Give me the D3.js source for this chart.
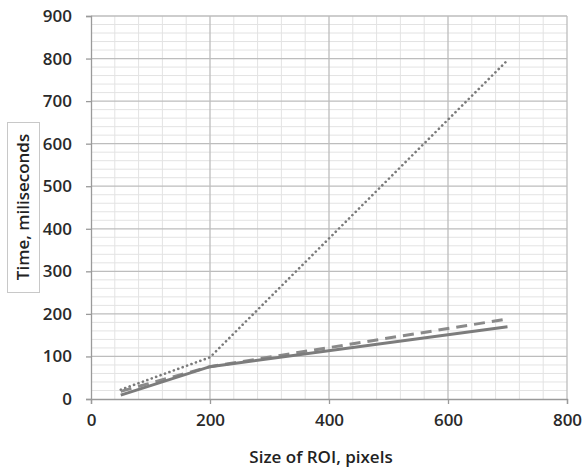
<!DOCTYPE html>
<html>
<head>
<meta charset="utf-8">
<script src="https://cdn.jsdelivr.net/npm/d3@7"></script>
<style>
  html, body { margin: 0; padding: 0; background: #fff; }
  svg text { font-family: "Open Sans", "Noto Sans", sans-serif; }
</style>
</head>
<body>
<svg id="chart" width="584" height="471"></svg>
<script>
// ---- data ----
const sizes = [50, 200, 700];
const seriesDotted = [22, 98, 796];
const seriesDashed = [18, 76, 188];
const seriesSolid = [9, 76, 170];
const xTicks = [0, 200, 400, 600, 800];
const yTicks = [0, 100, 200, 300, 400, 500, 600, 700, 800, 900];
const xTitle = "Size of ROI, pixels";
const yTitle = "Time, miliseconds";

// ---- layout ----
const W = 584, H = 471;
const m = { left: 91, right: 17, top: 16, bottom: 72 };
const svg = d3.select("#chart");
const x = d3.scaleLinear().domain([0, 800]).range([m.left, W - m.right]);
const y = d3.scaleLinear().domain([0, 900]).range([H - m.bottom, m.top]);

// minor grid
const g = svg.append("g");
g.selectAll(".mx").data(d3.range(0, 801, 40).filter(v => v % 200 !== 0)).join("line")
  .attr("x1", d => x(d)).attr("x2", d => x(d)).attr("y1", y(0)).attr("y2", y(900))
  .attr("stroke", "#e3e3e3").attr("stroke-width", 1);
g.selectAll(".my").data(d3.range(0, 901, 20).filter(v => v % 100 !== 0)).join("line")
  .attr("x1", x(0)).attr("x2", x(800)).attr("y1", d => y(d)).attr("y2", d => y(d))
  .attr("stroke", "#e3e3e3").attr("stroke-width", 1);
// major grid
g.selectAll(".Mx").data(xTicks.filter(v => v > 0)).join("line")
  .attr("x1", d => x(d)).attr("x2", d => x(d)).attr("y1", y(0)).attr("y2", y(900))
  .attr("stroke", "#bdbdbd").attr("stroke-width", 1.3);
g.selectAll(".My").data(yTicks.filter(v => v > 0)).join("line")
  .attr("x1", x(0)).attr("x2", x(800)).attr("y1", d => y(d)).attr("y2", d => y(d))
  .attr("stroke", "#bdbdbd").attr("stroke-width", 1.3);

// axes
const xAxis = svg.append("g").attr("transform", `translate(0,${y(0)})`)
  .call(d3.axisBottom(x).tickValues(xTicks).tickSize(5).tickPadding(10));
const yAxis = svg.append("g").attr("transform", `translate(${x(0)},0)`)
  .call(d3.axisLeft(y).tickValues(yTicks).tickSize(5).tickPadding(14));
[xAxis, yAxis].forEach(a => {
  a.select(".domain").attr("stroke", "#9a9a9a").attr("stroke-width", 1.3);
  a.selectAll(".tick line").attr("stroke", "#9a9a9a").attr("stroke-width", 1.3);
  a.selectAll(".tick text").attr("fill", "#2a2a2a").style("font-size", "17px")
    .style("font-weight", "600").style("font-family", "'Open Sans', sans-serif");
});

// lines
const line = d3.line().x(d => x(d[0])).y(d => y(d[1]));
const mk = arr => sizes.map((s, i) => [s, arr[i]]);
svg.append("path").datum(mk(seriesDotted)).attr("d", line)
  .attr("fill", "none").attr("stroke", "#7a7a7a").attr("stroke-width", 2.6)
  .attr("stroke-linecap", "round").attr("stroke-dasharray", "0.1 4.6");
svg.append("path").datum(mk(seriesDashed)).attr("d", line)
  .attr("fill", "none").attr("stroke", "#8a8a8a").attr("stroke-width", 3)
  .attr("stroke-dasharray", "11 7");
svg.append("path").datum(mk(seriesSolid)).attr("d", line)
  .attr("fill", "none").attr("stroke", "#7c7c7c").attr("stroke-width", 3);

// titles
svg.append("text").attr("x", (x(0) + x(800)) / 2 - 8).attr("y", 463)
  .attr("text-anchor", "middle").attr("fill", "#222")
  .style("font-size", "17px").style("font-weight", "600").text(xTitle);
svg.append("rect").attr("x", 7.5).attr("y", 122.5).attr("width", 32).attr("height", 170)
  .attr("fill", "#fff").attr("stroke", "#c8c8c8").attr("stroke-width", 1);
svg.append("text").attr("transform", "translate(29,207) rotate(-90)")
  .attr("text-anchor", "middle").attr("fill", "#222")
  .style("font-size", "17px").style("font-weight", "600").text(yTitle);
</script>
</body>
</html>
